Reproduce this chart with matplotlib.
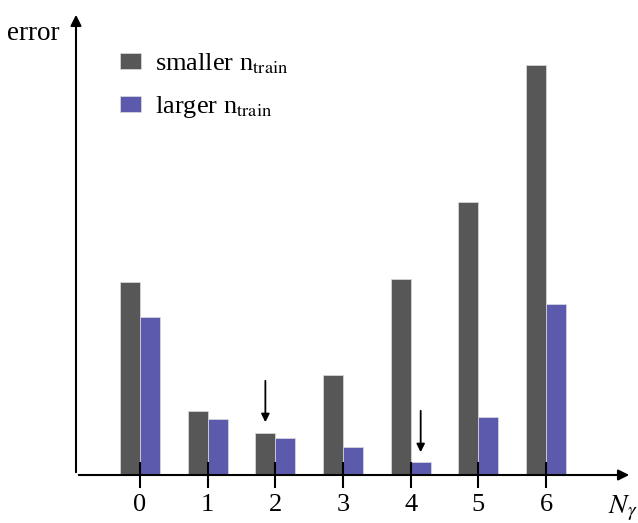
import matplotlib.pyplot as plt
import numpy as np

plt.rcParams['font.family'] = ['Liberation Serif', 'DejaVu Serif']
plt.rcParams['mathtext.fontset'] = 'stix'

n_gamma = [0, 1, 2, 3, 4, 5, 6]
err_smaller = [1.93, 0.64, 0.42, 1.00, 1.96, 2.73, 4.10]
err_larger = [1.58, 0.56, 0.37, 0.28, 0.13, 0.58, 1.71]
tick_labels = ['0', '1', '2', '3', '4', '5', '6']

gray = '#575757'
blue = '#5b5aad'
w = 0.295

fig = plt.figure(figsize=(6.38, 5.23), dpi=100)
ax = fig.add_axes([0, 0, 1, 1])
ax.set_xlim(-2.069, 7.359)
ax.set_ylim(-0.48, 4.75)
ax.axis('off')

x = np.array(n_gamma)
ax.bar(x - w / 2, err_smaller, w, color=gray, edgecolor='#dddddd', linewidth=0.5,
       label='smaller n$_{\\mathrm{train}}$')
ax.bar(x + w / 2, err_larger, w, color=blue, edgecolor='#dddddd', linewidth=0.5,
       label='larger n$_{\\mathrm{train}}$')

# axes drawn as arrows
x0 = -0.946
ax.annotate('', xy=(7.27, 0), xytext=(x0, 0),
            arrowprops=dict(arrowstyle='-|>', color='black', lw=1.5, mutation_scale=16))
ax.annotate('', xy=(x0, 4.63), xytext=(x0, 0),
            arrowprops=dict(arrowstyle='-|>', color='black', lw=1.5, mutation_scale=16))

# tick marks and labels
ax.vlines(x, -0.13, 0.13, color='black', lw=1.5)
for xi, lab in zip(x, tick_labels):
    ax.text(xi, -0.30, lab, ha='center', va='center', fontsize=19)

ax.text(-1.58, 4.42, 'error', ha='center', va='center', fontsize=19.5)
ax.text(6.92, -0.33, '$N_\\gamma$', ha='left', va='center', fontsize=20)

# arrows marking the best N_gamma
ax.annotate('', xy=(2 - w / 2, 0.50), xytext=(2 - w / 2, 0.97),
            arrowprops=dict(arrowstyle='-|>', color='black', lw=1.3, mutation_scale=12))
ax.annotate('', xy=(4 + w / 2, 0.20), xytext=(4 + w / 2, 0.67),
            arrowprops=dict(arrowstyle='-|>', color='black', lw=1.3, mutation_scale=12))

ax.legend(loc='upper left', bbox_to_anchor=(0.168, 0.927), frameon=False, fontsize=19,
          handlelength=0.8, handleheight=0.6, handletextpad=0.5, labelspacing=0.69,
          borderpad=0.0)

fig.savefig('out.png', dpi=100)
